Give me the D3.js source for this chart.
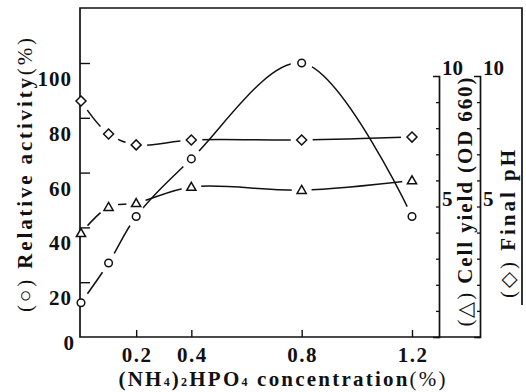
<!DOCTYPE html>
<html>
<head>
<meta charset="utf-8">
<script src="https://cdn.jsdelivr.net/npm/d3@7/dist/d3.min.js"></script>
<style>
  html, body { margin: 0; padding: 0; background: #fff; }
  svg { display: block; }
  text { font-family: "Liberation Serif", "Times New Roman", serif; font-weight: bold; fill: #111; }
</style>
</head>
<body>
<svg id="chart" width="526" height="392"></svg>
<script>
// (NH4)2HPO4 concentration (%)
const conc = [0, 0.1, 0.2, 0.4, 0.8, 1.2];
// Relative activity (%)
const activity = [12.5, 27, 44, 65, 100, 44];
// Cell yield (OD 660)
const cellYield = [3.98, 4.98, 5.13, 5.75, 5.63, 6.0];
// Final pH
const finalPH = [9.04, 7.78, 7.36, 7.55, 7.55, 7.66];

const xTicks = [0.2, 0.4, 0.8, 1.2];
const activityTicks = [0, 20, 40, 60, 80, 100];
const rightTicks = [5, 10];

const ink = "#111";
const svg = d3.select("#chart");

const x = d3.scaleLinear().domain([0, 1.2]).range([81, 412]);
const yAct = d3.scaleLinear().domain([0, 100]).range([337, 63]);
const yRight = d3.scaleLinear().domain([0, 10]).range([337, 76]);

const frameLeft = 80, frameTop = 8, frameBottom = yAct(0), frameRight = 522;
const axisCell = 439, axisPH = 480;

// frame: left axis, top edge, partial right edge, bottom axis
svg.append("path")
  .attr("d", `M${frameRight},305V${frameTop}H${frameLeft}V${frameBottom}H${axisPH}`)
  .attr("fill", "none").attr("stroke", ink).attr("stroke-width", 1.7);

// left axis ticks (inward)
const gLeft = svg.append("g").attr("transform", `translate(${frameLeft},0)`)
  .call(d3.axisRight(yAct).tickValues(activityTicks.filter(d => d > 0))
    .tickSize(10).tickSizeOuter(0).tickFormat(""));
gLeft.select(".domain").remove();
gLeft.selectAll(".tick line").attr("stroke", ink).attr("stroke-width", 1.4);

// left tick labels
svg.append("g").selectAll("text").data(activityTicks).join("text")
  .attr("x", d => d === 0 ? 75 : 72)
  .attr("y", d => yAct(d) + (d === 0 ? 6 : 16))
  .attr("text-anchor", "end").attr("dominant-baseline", "central")
  .attr("font-size", 21).attr("letter-spacing", 1)
  .text(d => d);

// bottom axis ticks (inward)
const gBottom = svg.append("g").attr("transform", `translate(0,${frameBottom})`)
  .call(d3.axisTop(x).tickValues(xTicks).tickSize(7).tickSizeOuter(0).tickFormat(""));
gBottom.select(".domain").remove();
gBottom.selectAll(".tick line").attr("stroke", ink).attr("stroke-width", 1.4);

svg.append("g").selectAll("text").data(xTicks).join("text")
  .attr("x", d => x(d) + 1)
  .attr("y", 355)
  .attr("text-anchor", "middle").attr("dominant-baseline", "central")
  .attr("font-size", 21).attr("letter-spacing", 1.5)
  .text(d => d.toFixed(1));

// right axes: cell yield and final pH, both 0-10
[axisCell, axisPH].forEach(ax => {
  const g = svg.append("g").attr("transform", `translate(${ax},0)`)
    .call(d3.axisLeft(yRight).ticks(10).tickSize(3).tickSizeOuter(6).tickFormat(""));
  g.select(".domain").attr("stroke", ink).attr("stroke-width", 1.7);
  g.selectAll(".tick line").attr("stroke", ink).attr("stroke-width", 1.3);
  g.selectAll(".tick").filter(d => d === 10).remove();
  svg.append("g").selectAll("text").data(rightTicks).join("text")
    .attr("x", ax + 3)
    .attr("y", d => yRight(d) - 8)
    .attr("dominant-baseline", "central")
    .attr("font-size", 21)
    .text(d => d);
});

// series
const series = [
  { id: "act", values: activity, y: yAct, shape: "circle", gap: 11 },
  { id: "cell", values: cellYield, y: yRight, shape: "triangle", gap: 10 },
  { id: "ph", values: finalPH, y: yRight, shape: "diamond", gap: 11 }
];

const shapes = {
  circle: "M3.8,0A3.8,3.8 0 1,1 -3.8,0A3.8,3.8 0 1,1 3.8,0Z",
  triangle: "M0,-4.6L4.6,3.4L-4.6,3.4Z",
  diamond: "M0,-5L5,0L0,5L-5,0Z"
};

const defs = svg.append("defs");
series.forEach(s => {
  const pts = conc.map((c, i) => [x(c), s.y(s.values[i])]);
  const mask = defs.append("mask").attr("id", "gap-" + s.id)
    .attr("maskUnits", "userSpaceOnUse").attr("x", 0).attr("y", 0)
    .attr("width", 526).attr("height", 392);
  mask.append("rect").attr("width", 526).attr("height", 392).attr("fill", "#fff");
  mask.selectAll("circle").data(pts).join("circle")
    .attr("cx", d => d[0]).attr("cy", d => d[1]).attr("r", s.gap).attr("fill", "#000");

  const line = d3.line().curve(d3.curveCatmullRom.alpha(0.5));
  svg.append("path").attr("d", line(pts))
    .attr("fill", "none").attr("stroke", ink).attr("stroke-width", 1.5)
    .attr("mask", `url(#gap-${s.id})`);

  svg.append("g").selectAll("path").data(pts).join("path")
    .attr("transform", d => `translate(${d[0]},${d[1]})`)
    .attr("d", shapes[s.shape])
    .attr("fill", "#fff").attr("stroke", ink).attr("stroke-width", 1.5);
});

// axis titles
const leftTitle = svg.append("text")
  .attr("transform", "translate(25,175) rotate(-90)")
  .attr("text-anchor", "middle").attr("dominant-baseline", "central")
  .attr("font-size", 21).attr("textLength", 274).attr("lengthAdjust", "spacing");
leftTitle.append("tspan").attr("font-weight", "normal").text("(○) ");
leftTitle.append("tspan").text("Relative activity");
leftTitle.append("tspan").attr("font-weight", "normal").text("(%)");

const xTitle = svg.append("text")
  .attr("x", 282).attr("y", 379)
  .attr("text-anchor", "middle").attr("dominant-baseline", "central")
  .attr("font-size", 21).attr("textLength", 327).attr("lengthAdjust", "spacing");
xTitle.append("tspan").text("(NH");
xTitle.append("tspan").attr("font-size", 12).attr("dy", 3).text("4");
xTitle.append("tspan").attr("dy", -3).text(")");
xTitle.append("tspan").attr("font-size", 12).attr("dy", 3).text("2");
xTitle.append("tspan").attr("dy", -3).text("HPO");
xTitle.append("tspan").attr("font-size", 12).attr("dy", 3).text("4");
xTitle.append("tspan").attr("dy", -3).text(" concentration");
xTitle.append("tspan").attr("font-weight", "normal").text("(%)");

const cellTitle = svg.append("text")
  .attr("transform", "translate(465,202) rotate(-90)")
  .attr("text-anchor", "middle").attr("dominant-baseline", "central")
  .attr("font-size", 21).attr("textLength", 249).attr("lengthAdjust", "spacing");
cellTitle.append("tspan").attr("font-weight", "normal").text("(△) ");
cellTitle.append("tspan").text("Cell yield (OD 660)");

const phTitle = svg.append("text")
  .attr("transform", "translate(508,224) rotate(-90)")
  .attr("text-anchor", "middle").attr("dominant-baseline", "central")
  .attr("font-size", 21).attr("textLength", 148).attr("lengthAdjust", "spacing");
phTitle.append("tspan").attr("font-weight", "normal").text("(◇) ");
phTitle.append("tspan").text("Final pH");
</script>
</body>
</html>
